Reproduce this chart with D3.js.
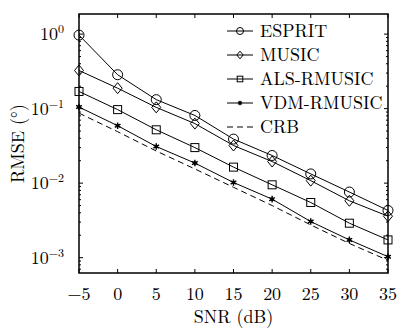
<!DOCTYPE html>
<html><head><meta charset="utf-8">
<script src="https://cdn.jsdelivr.net/npm/d3@7"></script>
<style>body{margin:0;background:#fff}svg{display:block}</style>
</head><body><svg id="c" width="400" height="333"></svg>
<script>
const snr = [-5, 0, 5, 10, 15, 20, 25, 30, 35];
const esprit = [0.97, 0.285, 0.132, 0.081, 0.039, 0.0235, 0.0133, 0.0076, 0.0043];
const music = [0.325, 0.188, 0.104, 0.063, 0.032, 0.0195, 0.0108, 0.0058, 0.0036];
const alsRmusic = [0.17, 0.097, 0.052, 0.030, 0.0164, 0.0095, 0.0055, 0.0029, 0.00173];
const vdmRmusic = [0.105, 0.059, 0.031, 0.0186, 0.0102, 0.0061, 0.00305, 0.00173, 0.00103];
const crb = [0.087, 0.049, 0.027, 0.0155, 0.0088, 0.005, 0.00275, 0.00155, 0.00092];
const seriesNames = ["ESPRIT", "MUSIC", "ALS-RMUSIC", "VDM-RMUSIC", "CRB"];
const xTicks = [-5, 0, 5, 10, 15, 20, 25, 30, 35];
const yTickExps = [0, -1, -2, -3];

const FONT = '"Latin Modern Roman", "Liberation Serif", serif';
const svg = d3.select("#c");
const L = 79, R = 388, T = 14, B = 273;
const x = d3.scaleLinear().domain([-5, 35]).range([L, R]);
const y = d3.scaleLog().domain([Math.pow(10, -3.206), Math.pow(10, 0.27)]).range([B, T]);
function txt(sel) { return sel.append("text").style("font-family", FONT).attr("fill", "#000"); }

// ticks
const g = svg.append("g").attr("stroke", "#000").attr("stroke-width", 1);
xTicks.forEach(v => {
  g.append("line").attr("x1", x(v)).attr("x2", x(v)).attr("y1", B).attr("y2", B - 4);
  g.append("line").attr("x1", x(v)).attr("x2", x(v)).attr("y1", T).attr("y2", T + 4);
});
const [ymin, ymax] = y.domain();
for (let e = -4; e <= 1; e++) {
  for (let m = 1; m <= 9; m++) {
    const v = m * Math.pow(10, e);
    if (v < ymin || v > ymax) continue;
    const len = m === 1 ? 4 : 2;
    g.append("line").attr("x1", L).attr("x2", L + len).attr("y1", y(v)).attr("y2", y(v));
    g.append("line").attr("x1", R).attr("x2", R - len).attr("y1", y(v)).attr("y2", y(v));
  }
}
svg.append("rect").attr("x", L).attr("y", T).attr("width", R - L).attr("height", B - T)
  .attr("fill", "none").attr("stroke", "#000").attr("stroke-width", 1.5);

// tick labels
xTicks.forEach(v => {
  txt(svg).attr("x", x(v)).attr("y", 300).attr("text-anchor", "middle")
    .attr("font-size", 18).text(v < 0 ? "\u2212" + Math.abs(v) : v);
});
yTickExps.forEach(e => {
  const t = txt(svg).attr("x", 64).attr("y", y(Math.pow(10, e)) + 6)
    .attr("text-anchor", "end").attr("font-size", 18);
  t.append("tspan").text("10");
  t.append("tspan").attr("font-size", 12).attr("dy", -7).text(e < 0 ? "\u2212" + Math.abs(e) : e);
});
txt(svg).attr("x", (L + R) / 2).attr("y", 323).attr("text-anchor", "middle")
  .attr("font-size", 18).text("SNR (dB)");
txt(svg).attr("transform", `translate(24,${(T + B) / 2}) rotate(-90)`)
  .attr("text-anchor", "middle").attr("font-size", 18).text("RMSE (\u00B0)");

// markers
function marker(sel, type, cx, cy, s) {
  if (type === "circle") sel.append("circle").attr("cx", cx).attr("cy", cy).attr("r", 5 * s)
    .attr("fill", "none").attr("stroke", "#000").attr("stroke-width", 1);
  else if (type === "diamond") sel.append("path")
    .attr("d", `M${cx},${cy - 5.5 * s}L${cx + 4.5 * s},${cy}L${cx},${cy + 5.5 * s}L${cx - 4.5 * s},${cy}Z`)
    .attr("fill", "none").attr("stroke", "#000").attr("stroke-width", 1);
  else if (type === "square") sel.append("rect").attr("x", cx - 4 * s).attr("y", cy - 4 * s)
    .attr("width", 8 * s).attr("height", 8 * s).attr("fill", "none").attr("stroke", "#000").attr("stroke-width", 1);
  else if (type === "star") {
    sel.append("path").attr("d", d3.symbol(d3.symbolAsterisk, 30 * s * s)()).attr("transform", `translate(${cx},${cy})`)
      .attr("fill", "none").attr("stroke", "#000").attr("stroke-width", 1.4);
    sel.append("circle").attr("cx", cx).attr("cy", cy).attr("r", 1.8 * s).attr("fill", "#000");
  }
}

const series = [
  { name: seriesNames[0], vals: esprit, m: "circle" },
  { name: seriesNames[1], vals: music, m: "diamond" },
  { name: seriesNames[2], vals: alsRmusic, m: "square" },
  { name: seriesNames[3], vals: vdmRmusic, m: "star" },
  { name: seriesNames[4], vals: crb, m: null, dash: "6,4" }
];
const line = d3.line().x((d, i) => x(snr[i])).y(d => y(d));
series.forEach(s => {
  svg.append("path").datum(s.vals).attr("d", line).attr("fill", "none").attr("stroke", "#000")
    .attr("stroke-width", 1).attr("stroke-dasharray", s.dash || null);
  if (s.m) {
    const mg = svg.append("g");
    s.vals.forEach((v, i) => marker(mg, s.m, x(snr[i]), y(v), 1));
  }
});

// legend
series.forEach((s, i) => {
  const ly = 31 + i * 24;
  svg.append("line").attr("x1", 227).attr("x2", 253).attr("y1", ly).attr("y2", ly)
    .attr("stroke", "#000").attr("stroke-width", 1).attr("stroke-dasharray", s.dash ? "6,4" : null);
  if (s.m) marker(svg, s.m, 240, ly, 0.7);
  txt(svg).attr("x", 260).attr("y", ly + 6).attr("font-size", 18).text(s.name);
});
</script></body></html>
